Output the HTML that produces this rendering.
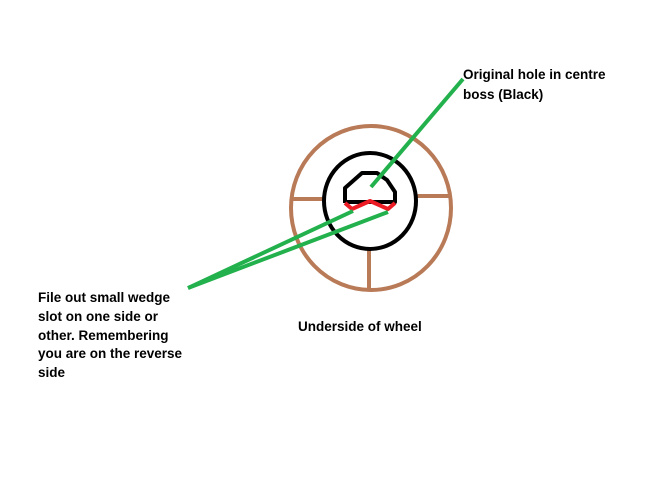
<!DOCTYPE html>
<html><head><style>
html,body{margin:0;padding:0;background:#fff;width:650px;height:487px;overflow:hidden}
svg{display:block}
text{font-family:"Liberation Sans",sans-serif;font-weight:bold;font-size:13.5px;fill:#000}
</style></head><body>
<svg width="650" height="487" viewBox="0 0 650 487">
<ellipse cx="371" cy="208" rx="80" ry="82" fill="none" stroke="#b97a57" stroke-width="4"/>
<line x1="290" y1="199" x2="324" y2="199" stroke="#b97a57" stroke-width="4"/>
<line x1="417" y1="196" x2="451" y2="196" stroke="#b97a57" stroke-width="4"/>
<line x1="369" y1="250" x2="369" y2="289" stroke="#b97a57" stroke-width="4"/>
<ellipse cx="370" cy="201" rx="46" ry="48" fill="none" stroke="#000" stroke-width="4"/>
<polyline points="345,203 345,188 362,173 377,173 387,180 395,192 395,202 345,202" fill="none" stroke="#000" stroke-width="4" stroke-linejoin="round"/>
<polyline points="345,203 352,209 370,201 388,209 395,203" fill="none" stroke="#ed1c24" stroke-width="4" stroke-linejoin="round"/>
<line x1="463" y1="79" x2="371" y2="187" stroke="#22b14c" stroke-width="4"/>
<line x1="188" y1="288" x2="353" y2="211" stroke="#22b14c" stroke-width="4"/>
<line x1="188" y1="288" x2="388" y2="212" stroke="#22b14c" stroke-width="4"/>
<text x="463" y="79">Original hole in centre</text>
<text x="463" y="99">boss (Black)</text>
<text x="298" y="331">Underside of wheel</text>
<text x="38" y="302">File out small wedge</text>
<text x="38" y="321">slot on one side or</text>
<text x="38" y="340">other. Remembering</text>
<text x="38" y="358">you are on the reverse</text>
<text x="38" y="377">side</text>
</svg>
</body></html>
